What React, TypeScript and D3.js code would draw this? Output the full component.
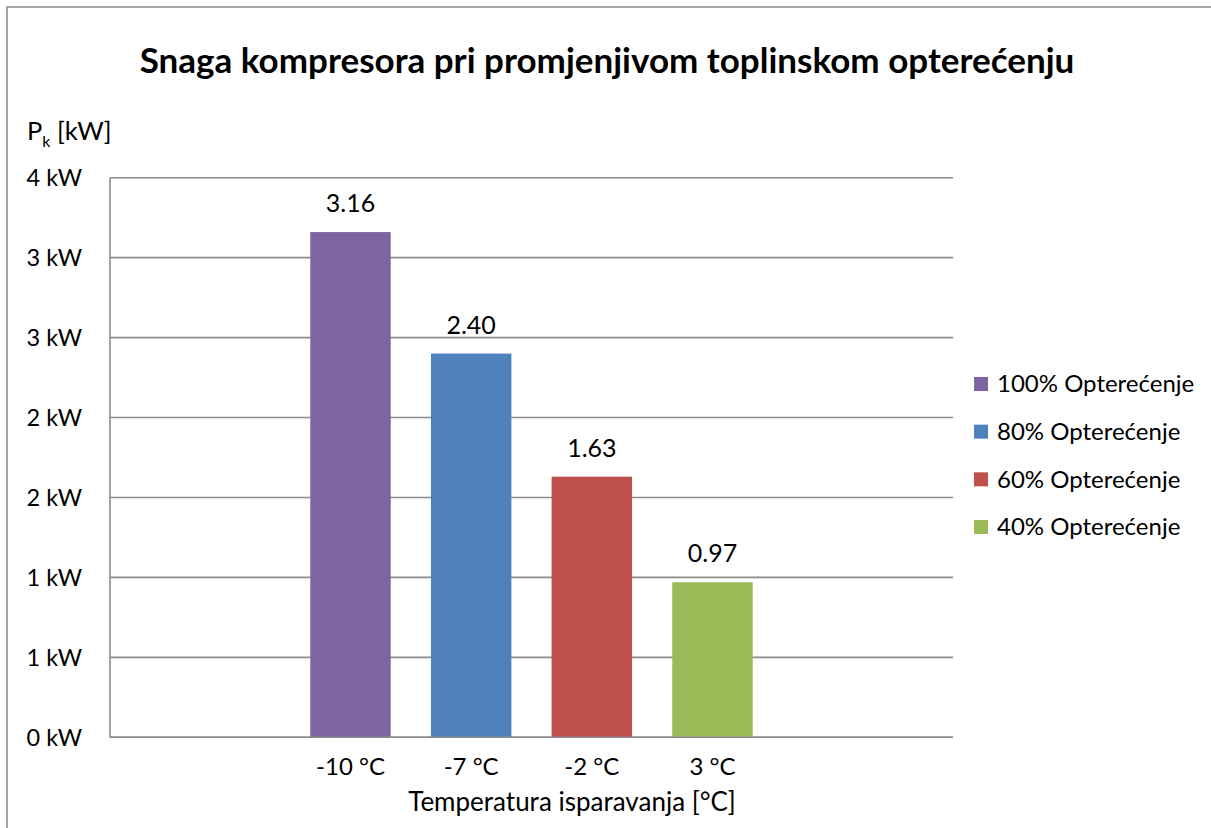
import React from "react";
import * as d3 from "d3";

const categories = ["-10 °C", "-7 °C", "-2 °C", "3 °C"];
const seriesNames = ["100% Opterećenje", "80% Opterećenje", "60% Opterećenje", "40% Opterećenje"];
const values = [3.16, 2.4, 1.63, 0.97];
const valueLabels = ["3.16", "2.40", "1.63", "0.97"];
const colors = ["#8064A2", "#4F81BD", "#C0504D", "#9BBB59"];
const yTicks = [0, 0.5, 1, 1.5, 2, 2.5, 3, 3.5];
const yTickLabels = ["0 kW", "1 kW", "1 kW", "2 kW", "2 kW", "3 kW", "3 kW", "4 kW"];
const title = "Snaga kompresora pri promjenjivom toplinskom opterećenju";
const xTitle = "Temperatura isparavanja [°C]";

const W = 1211;
const H = 828;
const FONT = "Lato, 'Noto Sans', sans-serif";

export default function App() {
  const left = 110, right = 953, top = 177.7, bottom = 737.3;
  const y = d3.scaleLinear().domain([0, 3.5]).range([bottom, top]);
  const x = d3
    .scaleBand<string>()
    .domain(categories)
    .range([left, right])
    .paddingInner(1 / 3)
    .paddingOuter(1.66);
  const bw = x.bandwidth();
  const legendY = d3.scalePoint<string>().domain(seriesNames).range([384, 527]);

  return (
    <svg
      width={W}
      height={H}
      style={{ position: "absolute", left: 0, top: 0, background: "#fff" }}
      fontFamily={FONT}
    >
      <rect x={7} y={7} width={W + 20} height={H + 20} fill="#fff" stroke="#888" strokeWidth={1.5} />
      <text x={607} y={73} textAnchor="middle" fontSize={35} fontWeight="bold" fill="#000">
        {title}
      </text>
      <text x={27} y={140} fontSize={25.5} fill="#000">
        P<tspan fontSize={16} dy={7}>k</tspan>
        <tspan dy={-7}> [kW]</tspan>
      </text>
      {yTicks.map((t, i) => (
        <g key={i}>
          <line x1={left} x2={right} y1={y(t)} y2={y(t)} stroke="#8c8c8c" strokeWidth={1.6} />
          <text x={82} y={y(t)} dy="0.35em" textAnchor="end" fontSize={23.5} fill="#000">
            {yTickLabels[i]}
          </text>
        </g>
      ))}
      <line x1={left} x2={left} y1={top} y2={bottom} stroke="#8c8c8c" strokeWidth={1.6} />
      {categories.map((c, i) => (
        <g key={c}>
          <rect x={x(c)} y={y(values[i])} width={bw} height={bottom - y(values[i])} fill={colors[i]} />
          <text x={x(c)! + bw / 2} y={y(values[i]) - 20} textAnchor="middle" fontSize={25} fill="#000">
            {valueLabels[i]}
          </text>
          <text x={x(c)! + bw / 2} y={775} textAnchor="middle" fontSize={24} fill="#000">
            {c}
          </text>
        </g>
      ))}
      <line x1={left} x2={right} y1={bottom} y2={bottom} stroke="#8c8c8c" strokeWidth={1.6} />
      <text x={572} y={811} textAnchor="middle" fontSize={26} fill="#000">
        {xTitle}
      </text>
      {seriesNames.map((s, i) => (
        <g key={s}>
          <rect x={974} y={legendY(s)! - 7} width={14} height={14} fill={colors[i]} />
          <text x={997} y={legendY(s)!} dy="0.35em" fontSize={24} fill="#000">
            {s}
          </text>
        </g>
      ))}
    </svg>
  );
}
